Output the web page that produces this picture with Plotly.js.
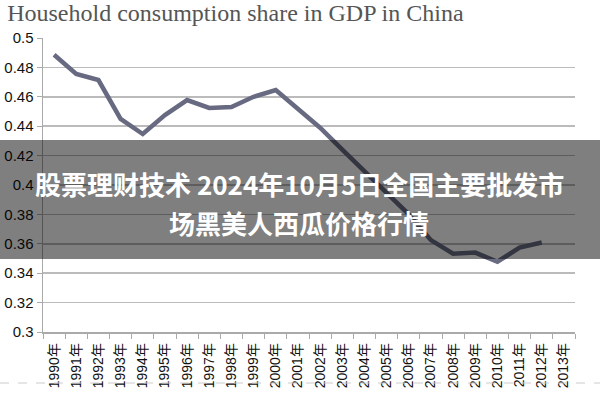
<!DOCTYPE html>
<html>
<head>
<meta charset="utf-8">
<script src="https://cdn.plot.ly/plotly-3.0.1.min.js"></script>
<style>html,body{margin:0;padding:0;background:#fff;}#chart{width:600px;height:400px;}</style>
</head>
<body>
<div id="chart"></div>
<script>
var years = ["1990年","1991年","1992年","1993年","1994年","1995年","1996年","1997年","1998年","1999年","2000年","2001年","2002年","2003年","2004年","2005年","2006年","2007年","2008年","2009年","2010年","2011年","2012年","2013年"];
var shareYears = ["1990年","1991年","1992年","1993年","1994年","1995年","1996年","1997年","1998年","1999年","2000年","2001年","2002年","2003年","2004年","2005年","2006年","2007年","2008年","2009年","2010年","2011年","2012年"];
var shareValues = [0.4886,0.4755,0.4714,0.445,0.4347,0.4476,0.4578,0.4524,0.4531,0.460,0.4646,0.452,0.439,0.424,0.4095,0.394,0.380,0.3625,0.3533,0.3540,0.3478,0.3574,0.3609];
var yTicks = [0.3,0.32,0.34,0.36,0.38,0.4,0.42,0.44,0.46,0.48,0.5];
var yTickText = ["0.3","0.32","0.34","0.36","0.38","0.4","0.42","0.44","0.46","0.48","0.5"];
var titleText = "Household consumption share in GDP in China";
var bannerLine1 = "股票理财技术 2024年10月5日全国主要批发市";
var bannerLine2 = "场黑美人西瓜价格行情";

var L = 43, R = 25, T = 38, B = 68;
var W = 600 - L - R, H = 400 - T - B;
function px(x){ return (x - L) / W; }
function py(y){ return (400 - B - y) / H; }

var trace = {
  x: shareYears, y: shareValues, type: "scatter", mode: "lines",
  line: {color: "#676a80", width: 4.5}, hoverinfo: "skip"
};

var layout = {
  width: 600, height: 400,
  margin: {l: L, r: R, t: T, b: B},
  paper_bgcolor: "#ffffff", plot_bgcolor: "#ffffff",
  showlegend: false,
  title: {text: titleText, x: 0.012, xanchor: "left", y: 0.99, yanchor: "top",
    font: {family: "Liberation Serif, serif", size: 24, color: "#555555"}},
  xaxis: {
    type: "category", categoryorder: "array", categoryarray: years,
    range: [-0.5, 23.5], tickson: "boundaries",
    ticks: "outside", ticklen: 5, tickcolor: "#aaaaaa", tickwidth: 1,
    showline: true, linecolor: "#aaaaaa", linewidth: 1.5,
    showgrid: false, tickangle: -90, ticklabelstandoff: 4,
    tickfont: {family: "Liberation Sans, Noto Sans CJK SC, sans-serif", size: 14, color: "#111111"},
    fixedrange: true
  },
  yaxis: {
    range: [0.3, 0.5], tickvals: yTicks, ticktext: yTickText,
    ticks: "outside", ticklen: 5, tickcolor: "#aaaaaa",
    showline: true, linecolor: "#aaaaaa", linewidth: 1.5,
    showgrid: true, gridcolor: "#bbbbbb", gridwidth: 1.5,
    zeroline: false,
    tickfont: {family: "Liberation Sans, sans-serif", size: 15, color: "#111111"},
    fixedrange: true
  },
  shapes: [
    {type: "rect", xref: "paper", yref: "paper", x0: px(0), x1: px(600), y0: py(259), y1: py(140),
     fillcolor: "rgba(0,0,0,0.5)", line: {width: 0}, layer: "above"},
    {type: "line", xref: "paper", yref: "paper", x0: px(0), x1: px(600), y0: py(383), y1: py(383),
     line: {color: "#cccccc", width: 1, dash: "dash"}, layer: "above"}
  ],
  annotations: [
    {text: "<b>" + bannerLine1 + "</b>", xref: "paper", yref: "paper", x: px(299), y: py(183),
     xanchor: "center", yanchor: "middle", showarrow: false,
     font: {family: "Noto Sans CJK SC, sans-serif", size: 26, color: "#ffffff"}},
    {text: "<b>" + bannerLine2 + "</b>", xref: "paper", yref: "paper", x: px(299), y: py(222),
     xanchor: "center", yanchor: "middle", showarrow: false,
     font: {family: "Noto Sans CJK SC, sans-serif", size: 26, color: "#ffffff"}}
  ]
};

Plotly.newPlot("chart", [trace], layout, {staticPlot: true, displayModeBar: false});
</script>
</body>
</html>
